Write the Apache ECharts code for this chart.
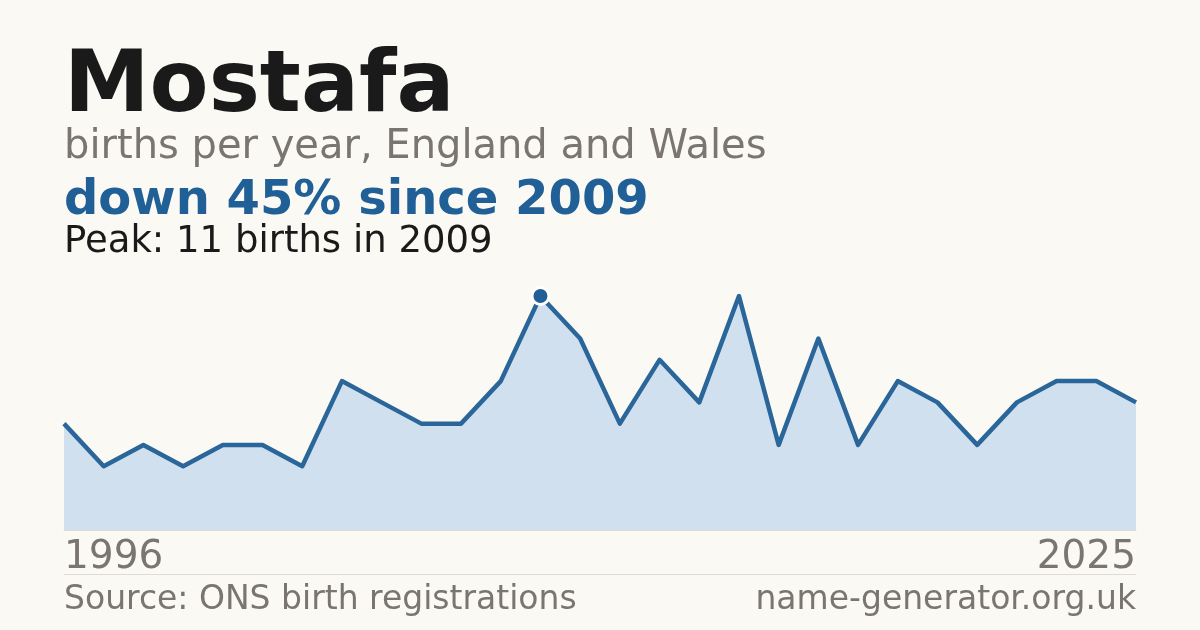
<!DOCTYPE html>
<html>
<head>
<meta charset="utf-8">
<script src="https://cdn.jsdelivr.net/npm/echarts@6/dist/echarts.min.js"></script>
<style>
  html, body { margin: 0; padding: 0; background: #faf9f4; }
  #chart { width: 1200px; height: 630px; }
</style>
</head>
<body>
<div id="chart"></div>
<script>
// years with a published count (ONS drops names under 3 births)
var years = ['1996', '1997', '1998', '1999', '2001', '2002', '2003', '2004', '2005', '2006',
  '2007', '2008', '2009', '2010', '2011', '2012', '2013', '2014', '2015', '2016',
  '2017', '2018', '2019', '2021', '2022', '2023', '2024', '2025'];
var births = [5, 3, 4, 3, 4, 4, 3, 7, 6, 5, 5, 7, 11, 9, 5, 8, 6, 11, 4, 9, 4, 7, 6, 4, 6, 7, 7, 6];
var peakIndex = 12;

var lineColor = '#2a6699';
var muted = '#7a766f';
var font = '"DejaVu Sans", sans-serif';

var chart = echarts.init(document.getElementById('chart'), null, { renderer: 'canvas' });

var seriesData = births.map(function (v, i) {
  if (i !== peakIndex) return v;
  return {
    value: v,
    symbol: 'circle',
    symbolSize: 17,
    itemStyle: { color: '#215f97', borderColor: '#ffffff', borderWidth: 3 }
  };
});

chart.setOption({
  animation: false,
  backgroundColor: '#faf9f4',
  textStyle: { fontFamily: font },
  grid: { left: 64, right: 64, top: 296, bottom: 100, containLabel: false },
  xAxis: {
    type: 'category',
    data: years,
    boundaryGap: false,
    axisTick: { show: false },
    axisLine: { show: true, lineStyle: { color: '#dedbd3', width: 1 } },
    axisLabel: {
      interval: function (i) { return i === 0 || i === years.length - 1; },
      alignMinLabel: 'left',
      alignMaxLabel: 'right',
      color: muted,
      fontSize: 39,
      fontFamily: font,
      margin: 8
    },
    splitLine: { show: false }
  },
  yAxis: {
    type: 'value',
    min: 0,
    max: 11,
    show: false
  },
  series: [{
    type: 'line',
    data: seriesData,
    symbol: 'none',
    silent: true,
    lineStyle: { color: lineColor, width: 4.5, join: 'round' },
    areaStyle: { color: '#d0e0ef', opacity: 1 },
    z: 2
  }],
  graphic: [
    { type: 'text', left: 64, top: 46, style: { text: 'Mostafa', font: 'bold 86px ' + font, fill: '#1a1a1a' } },
    { type: 'text', left: 64, top: 128, style: { text: 'births per year, England and Wales', font: '40px ' + font, fill: muted } },
    { type: 'text', left: 64, top: 178, style: { text: 'down 45% since 2009', font: 'bold 48px ' + font, fill: '#215f97' } },
    { type: 'text', left: 64, top: 224, style: { text: 'Peak: 11 births in 2009', font: '37px ' + font, fill: '#1a1a1a' } },
    { type: 'line', shape: { x1: 64, y1: 574.5, x2: 1136, y2: 574.5 }, style: { stroke: '#dedbd3', lineWidth: 1 } },
    { type: 'text', left: 64, top: 584, style: { text: 'Source: ONS birth registrations', font: '33px ' + font, fill: muted } },
    { type: 'text', right: 64, top: 584, style: { text: 'name-generator.org.uk', font: '33px ' + font, fill: muted } }
  ]
});
</script>
</body>
</html>
